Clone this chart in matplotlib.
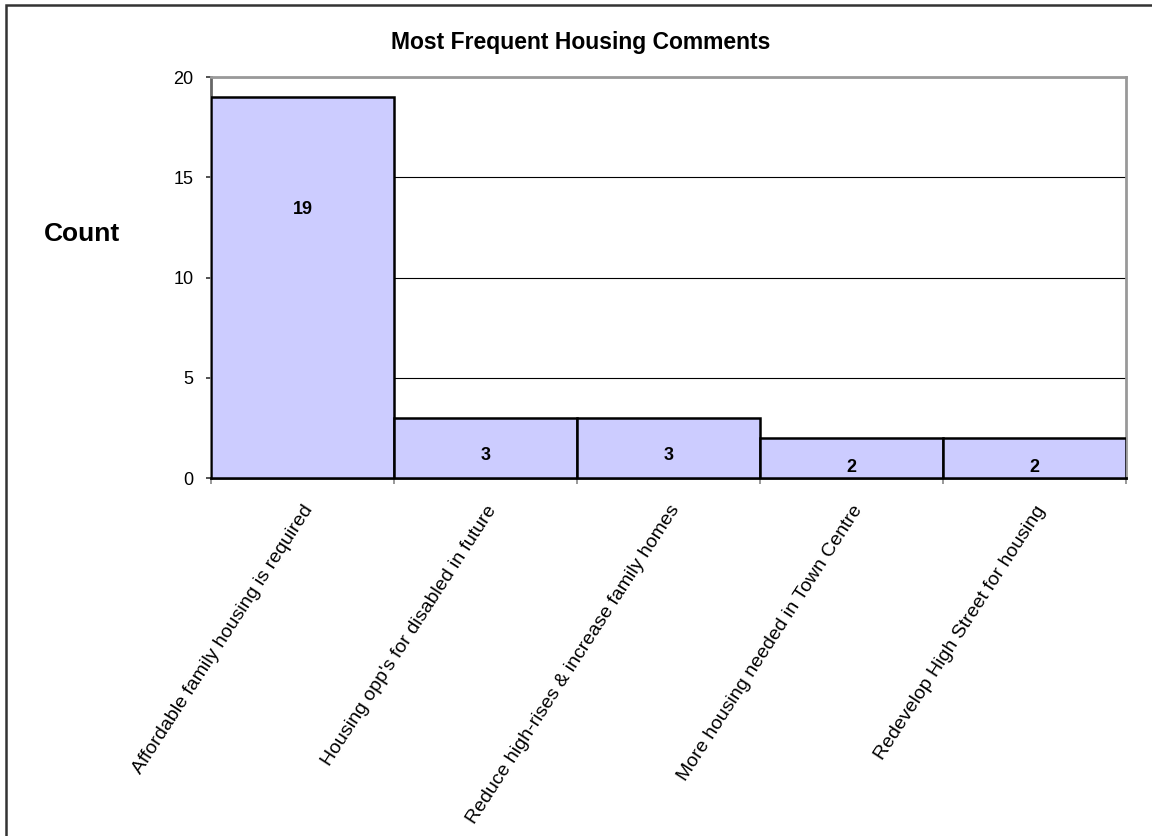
import matplotlib.pyplot as plt
from matplotlib.patches import Rectangle
from matplotlib.transforms import ScaledTranslation

# ==========================
# DADOS
# ==========================

comentarios = [
    "Affordable family housing is required",
    "Housing opp's for disabled in future",
    "Reduce high-rises & increase family homes",
    "More housing needed in Town Centre",
    "Redevelop High Street for housing",
]
contagens = [19, 3, 3, 2, 2]
# altura dos rótulos de valor
altura_rotulo = [13.4, 1.1, 1.1, 0.5, 0.5]

plt.rcParams["font.family"] = ["Liberation Sans", "DejaVu Sans"]

# ==========================
# GRÁFICO
# ==========================

fig = plt.figure(figsize=(11.52, 8.36), dpi=100)
ax = fig.add_axes([211 / 1152, 1 - 478 / 836, 915 / 1152, 401 / 836])

# moldura externa (direita e baixo ficam fora da imagem)
fig.patches.append(
    Rectangle((5.5 / 1152, -0.05), 1.1, 1.05 - 5.5 / 836,
              transform=fig.transFigure, fill=False,
              edgecolor="#333333", linewidth=1.8, clip_on=False)
)

posicoes = list(range(len(comentarios)))

ax.bar(
    [p + 0.5 for p in posicoes],
    contagens,
    width=1.0,
    color="#CCCCFF",
    edgecolor="black",
    linewidth=1.8,
    zorder=3,
)

for p, valor, y in zip(posicoes, contagens, altura_rotulo):
    ax.text(p + 0.5, y, str(valor), ha="center", va="center",
            fontsize=13, fontweight="bold", zorder=4)

ax.set_xlim(0, len(comentarios))
ax.set_ylim(0, 20)
ax.set_yticks([0, 5, 10, 15, 20])
ax.yaxis.grid(True, color="black", linewidth=0.8, zorder=0)

ax.set_xticks(range(len(comentarios) + 1))
ax.set_xticklabels([])
ax.set_xticks([p + 0.5 for p in posicoes], minor=True)
ax.set_xticklabels(comentarios, minor=True, rotation=57,
                   ha="right", va="top", rotation_mode="anchor",
                   fontsize=14)
desloca = ScaledTranslation(-17 / 100, 0, fig.dpi_scale_trans)
for rot in ax.get_xticklabels(minor=True):
    rot.set_transform(rot.get_transform() + desloca)
ax.tick_params(axis="x", which="minor", length=0, pad=17.5)
ax.tick_params(axis="x", which="major", length=4, width=1.2, color="#888888")
ax.tick_params(axis="y", length=3.6, width=1.2, color="#333333",
               labelsize=13, pad=9)

for lado in ["top", "right"]:
    ax.spines[lado].set_color("#999999")
    ax.spines[lado].set_linewidth(2)
ax.spines["left"].set_color("#666666")
ax.spines["left"].set_linewidth(2)
ax.spines["bottom"].set_color("black")
ax.spines["bottom"].set_linewidth(2)

fig.text(581 / 1152, 1 - 42 / 836, "Most Frequent Housing Comments",
         ha="center", va="center", fontsize=16.5, fontweight="bold")
fig.text(120 / 1152, 1 - 234 / 836, "Count",
         ha="right", va="center", fontsize=19, fontweight="bold")

plt.savefig("out.png", dpi=100)
